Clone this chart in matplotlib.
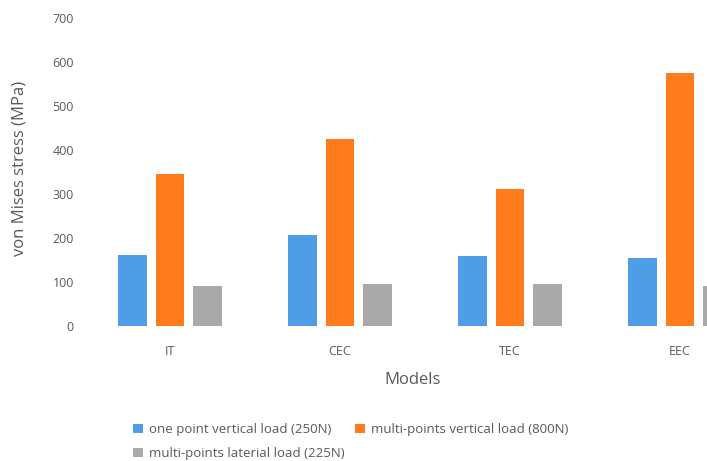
import numpy as np
import matplotlib
matplotlib.use('Agg')
import matplotlib.pyplot as plt

plt.rcParams['font.family'] = ['Open Sans', 'DejaVu Sans']

models = ['IT', 'CEC', 'TEC', 'EEC']
one_point_vertical = [162, 207, 158, 154]
multi_points_vertical = [345, 425, 311, 576]
multi_points_lateral = [90, 95, 95, 91]
series_names = ['one point vertical load (250N)',
                'multi-points vertical load (800N)',
                'multi-points laterial load (225N)']
colors = ['#4F9DE6', '#FF7B1C', '#A9A9A9']
yticks = [0, 100, 200, 300, 400, 500, 600, 700]

txt = '#595959'

fig = plt.figure(figsize=(7.07, 4.61), dpi=100)
# the plot area runs past the right edge on purpose
ax = fig.add_axes([85/707, 135/461, 680/707, 308/461])

x = np.arange(len(models))
step = 0.218
width = 0.17
series = [one_point_vertical, multi_points_vertical, multi_points_lateral]
bars = []
for i, vals in enumerate(series):
    b = ax.bar(x + (i-1)*step, vals, width, color=colors[i], label=series_names[i])
    bars.append(b)

ax.set_xlim(-0.5, 3.5)
ax.set_ylim(0, 700)
ax.set_yticks(yticks)
ax.set_xticks(x)
ax.set_xticklabels(models)
for s in ax.spines.values():
    s.set_visible(False)
ax.tick_params(axis='both', length=0, colors=txt, labelsize=9)
ax.tick_params(axis='y', pad=8)
ax.tick_params(axis='x', pad=14)

fig.text(20/707, 1-168/461, 'von Mises stress (MPa)', rotation=90, ha='center', va='center',
         color=txt, fontsize=12)
fig.text(413/707, 1-380/461, 'Models', ha='center', va='center', color=txt, fontsize=12)

# legend rows: blue, orange / gray
fig.legend(handles=[bars[0], bars[2], bars[1]], loc='upper left',
           bbox_to_anchor=(128/707, 1-418/461), ncol=2,
           frameon=False, fontsize=9.5, labelcolor=txt, handlelength=0.7, handleheight=0.7,
           handletextpad=0.5, columnspacing=0.8, labelspacing=0.8, borderaxespad=0)

fig.savefig('out.png', dpi=100)
